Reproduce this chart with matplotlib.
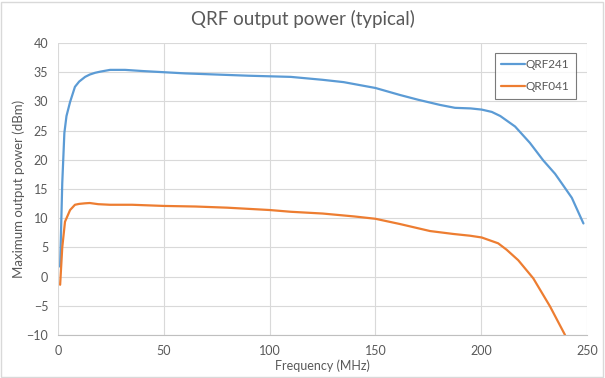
import matplotlib
matplotlib.use("Agg")
import matplotlib.pyplot as plt
from matplotlib.patches import Rectangle

# values
freq_241 = [1, 2, 3, 4, 5.7, 8, 10, 12.8, 15, 17.5, 20, 24.6, 31.7, 40, 50, 60, 75,
            90, 100, 110, 125, 135, 150, 161.6, 170, 180.5, 187.6, 195, 200.2, 205,
            209, 216, 223, 229.3, 234.9, 238, 242.8, 248.3]
qrf241 = [1.7, 16, 24.6, 27.5, 29.9, 32.5, 33.4, 34.2, 34.6, 34.9, 35.1, 35.4, 35.4,
          35.2, 35.0, 34.8, 34.6, 34.4, 34.3, 34.2, 33.7, 33.3, 32.3, 31.1, 30.3,
          29.4, 28.9, 28.8, 28.6, 28.2, 27.5, 25.7, 22.9, 19.9, 17.6, 16.0, 13.5, 9.1]

freq_041 = [1, 2, 3.3, 5.7, 8, 10, 12.8, 15, 19, 24.6, 35, 50, 65, 80, 90, 100, 110,
            125, 140, 150, 161.6, 175.8, 186.8, 194.7, 200.2, 208, 212, 217.5,
            224.6, 232.5, 239.6]
qrf041 = [-1.4, 5, 9.4, 11.4, 12.3, 12.45, 12.55, 12.6, 12.4, 12.3, 12.3, 12.1, 12.0,
          11.8, 11.6, 11.4, 11.1, 10.8, 10.3, 9.9, 9.0, 7.8, 7.3, 7.0, 6.7, 5.7,
          4.6, 2.8, -0.3, -5.1, -10]

x_ticks = [0, 50, 100, 150, 200, 250]
y_ticks = [-10, -5, 0, 5, 10, 15, 20, 25, 30, 35, 40]

plt.rcParams["font.family"] = ["Lato", "DejaVu Sans"]
text_col = "#595959"
grid_col = "#D9D9D9"

fig = plt.figure(figsize=(6.05, 3.78), dpi=100)
ax = fig.add_axes([0.0959, 0.1138, 0.8744, 0.7724])

ax.plot(freq_241, qrf241, color="#5B9BD5", lw=1.6, label="QRF241", solid_capstyle="round")
ax.plot(freq_041, qrf041, color="#ED7D31", lw=1.6, label="QRF041", solid_capstyle="round")

ax.set_xlim(0, 250)
ax.set_ylim(-10, 40)
ax.set_xticks(x_ticks)
ax.set_yticks(y_ticks)
ax.grid(True, color=grid_col, lw=0.8)
ax.set_axisbelow(True)
for side in ["top", "right", "left"]:
    ax.spines[side].set_visible(False)
ax.spines["bottom"].set_color("#BFBFBF")
ax.spines["bottom"].set_linewidth(0.8)
ax.tick_params(length=0, colors=text_col, labelsize=9, pad=7)

ax.set_xlabel("Frequency (MHz)", color=text_col, fontsize=9, labelpad=2)
ax.set_ylabel("Maximum output power (dBm)", color=text_col, fontsize=9.5, labelpad=1)
fig.suptitle("QRF output power (typical)", color=text_col, fontsize=13.5, y=0.975)

leg = ax.legend(loc="upper right", bbox_to_anchor=(0.979, 0.966), borderaxespad=0,
                fontsize=8.5, frameon=True, fancybox=False, handlelength=2.0,
                handletextpad=0.05, labelspacing=0.9, borderpad=0.55,
                labelcolor=text_col)
leg.get_frame().set_edgecolor("#595959")
leg.get_frame().set_linewidth(0.8)

fig.patches.append(Rectangle((0.002, 0.003), 0.995, 0.993, transform=fig.transFigure,
                             fill=False, edgecolor=grid_col, lw=1))

fig.savefig("out.png", dpi=100)
